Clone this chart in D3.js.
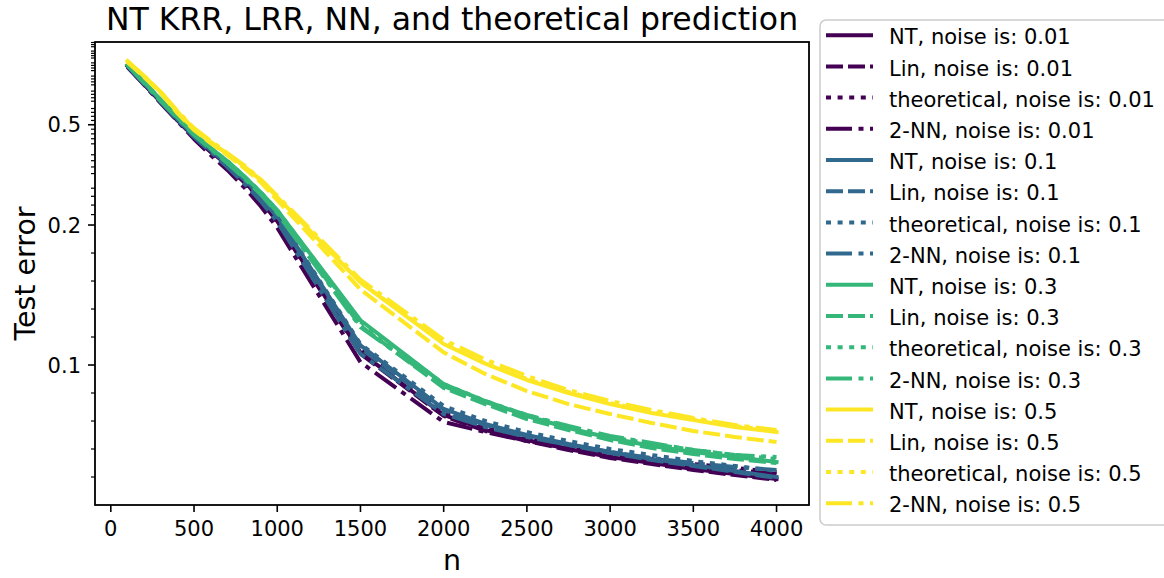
<!DOCTYPE html>
<html><head><meta charset="utf-8">
<script src="https://cdn.jsdelivr.net/npm/d3@7"></script>
<style>
body{margin:0;background:#fff}
text{font-family:"DejaVu Sans",sans-serif;fill:#000}
</style>
</head><body>
<svg id="chart" width="1164" height="578"></svg>
<script>
// ---------------- data ----------------
const nValues = [100,200,300,400,500,600,700,800,900,1000,1500,2000,2250,2500,2750,3000,3250,3500,3750,4000];
const noiseLevels = ["0.01","0.1","0.3","0.5"];
const methods = ["NT","Lin","theoretical","2-NN"];
const noiseColors = ["#440154","#31688e","#35b779","#fde725"];

const ntNoise001   = [0.855,0.725,0.615,0.522,0.447,0.393,0.346,0.299,0.253,0.207,0.109,0.0643,0.0536,0.0464,0.0400,0.0343,0.0300,0.0257,0.0221,0.0186];
const linNoise001  = [0.855,0.725,0.615,0.522,0.447,0.390,0.343,0.296,0.251,0.206,0.108,0.0636,0.0529,0.0457,0.0393,0.0336,0.0293,0.0250,0.0214,0.0179];
const theoNoise001 = [0.855,0.725,0.615,0.522,0.447,0.393,0.346,0.299,0.253,0.209,0.111,0.0657,0.0550,0.0479,0.0421,0.0371,0.0329,0.0293,0.0264,0.0236];
const nnNoise001   = [0.847,0.719,0.609,0.517,0.439,0.379,0.331,0.283,0.238,0.198,0.102,0.0593,0.0521,0.0457,0.0407,0.0357,0.0314,0.0279,0.0250,0.0221];

const ntNoise01    = [0.863,0.732,0.621,0.527,0.451,0.397,0.349,0.304,0.261,0.217,0.114,0.0686,0.0579,0.0500,0.0436,0.0379,0.0329,0.0286,0.0243,0.0200];
const linNoise01   = [0.863,0.732,0.621,0.527,0.451,0.397,0.349,0.302,0.258,0.215,0.112,0.0679,0.0571,0.0493,0.0429,0.0371,0.0321,0.0279,0.0236,0.0193];
const theoNoise01  = [0.863,0.732,0.621,0.527,0.451,0.397,0.349,0.304,0.261,0.219,0.115,0.0707,0.0600,0.0521,0.0457,0.0400,0.0357,0.0314,0.0279,0.0243];
const nnNoise01    = [0.855,0.725,0.615,0.522,0.447,0.390,0.340,0.293,0.249,0.206,0.108,0.0650,0.0557,0.0486,0.0429,0.0379,0.0336,0.0300,0.0271,0.0250];

const ntNoise03    = [0.863,0.739,0.627,0.536,0.459,0.404,0.359,0.313,0.270,0.229,0.132,0.0864,0.0743,0.0636,0.0550,0.0479,0.0421,0.0379,0.0343,0.0307];
const linNoise03   = [0.863,0.739,0.627,0.536,0.459,0.404,0.356,0.310,0.268,0.225,0.128,0.0836,0.0721,0.0614,0.0536,0.0464,0.0407,0.0364,0.0329,0.0300];
const theoNoise03  = [0.863,0.739,0.627,0.536,0.459,0.404,0.359,0.313,0.270,0.229,0.131,0.0864,0.0743,0.0643,0.0557,0.0486,0.0436,0.0393,0.0357,0.0329];
const nnNoise03    = [0.863,0.732,0.621,0.532,0.455,0.400,0.352,0.307,0.265,0.223,0.127,0.0850,0.0736,0.0643,0.0564,0.0493,0.0443,0.0393,0.0357,0.0343];

const ntNoise05    = [0.895,0.780,0.674,0.562,0.480,0.427,0.383,0.343,0.302,0.258,0.159,0.115,0.101,0.0893,0.0800,0.0721,0.0657,0.0607,0.0557,0.0521];
const linNoise05   = [0.887,0.773,0.668,0.556,0.476,0.423,0.379,0.337,0.296,0.251,0.154,0.109,0.0936,0.0814,0.0721,0.0650,0.0586,0.0529,0.0486,0.0450];
const theoNoise05  = [0.895,0.780,0.674,0.562,0.480,0.427,0.383,0.343,0.302,0.258,0.159,0.116,0.101,0.0900,0.0807,0.0729,0.0664,0.0614,0.0564,0.0529];
const nnNoise05    = [0.887,0.780,0.674,0.567,0.485,0.431,0.386,0.346,0.304,0.261,0.161,0.118,0.104,0.0921,0.0821,0.0743,0.0679,0.0621,0.0571,0.0536];

const xTicks = [0,500,1000,1500,2000,2500,3000,3500,4000];
const yTicks = [0.1,0.2,0.5];
const yTickLabels = ["0.1","0.2","0.5"];
const titleText = "NT KRR, LRR, NN, and theoretical prediction";
const xLabel = "n";
const yLabel = "Test error";

// ---------------- build ----------------
const seriesValues = [
  [ntNoise001, linNoise001, theoNoise001, nnNoise001],
  [ntNoise01,  linNoise01,  theoNoise01,  nnNoise01],
  [ntNoise03,  linNoise03,  theoNoise03,  nnNoise03],
  [ntNoise05,  linNoise05,  theoNoise05,  nnNoise05]
];
const dashes = ["none", "17,5", "5,6.6", "26,6.5,5,6.5"];
const caps = ["square", "butt", "butt", "butt"];

const series = [];
noiseLevels.forEach((nl, i) => methods.forEach((m, j) => {
  series.push({label: `${m}, noise is: ${nl}`, color: noiseColors[i], dash: dashes[j], cap: caps[j], values: seriesValues[i][j]});
}));

const svg = d3.select("#chart");
svg.append("rect").attr("width",1164).attr("height",578).attr("fill","#fff");

const L = 95, R = 809, T = 42, B = 505;

// symmetric-log transform (linthresh 0.2, linscale 1, base 10)
const LINTHRESH = 0.2, LINSCALE_ADJ = 1/(1-1/10);
const symlog = v => v <= LINTHRESH ? v*LINSCALE_ADJ : LINTHRESH*(LINSCALE_ADJ + Math.log10(v/LINTHRESH));
const yTop = 1.065;
const yLin = d3.scaleLinear().domain([symlog(0), symlog(yTop)]).range([B, T]);
const y = v => yLin(symlog(v));
const x = d3.scaleLinear().domain([-95, 4195]).range([L, R]);

const clip = svg.append("defs").append("clipPath").attr("id","clip")
  .append("rect").attr("x",L).attr("y",T).attr("width",R-L).attr("height",B-T);

const line = d3.line().x((d)=>x(d[0])).y((d)=>y(d[1]));

const g = svg.append("g").attr("clip-path","url(#clip)");
series.forEach(s => {
  g.append("path")
    .datum(nValues.map((n,k)=>[n, s.values[k]]))
    .attr("d", line)
    .attr("fill","none")
    .attr("stroke", s.color)
    .attr("stroke-width", 4)
    .attr("stroke-dasharray", s.dash)
    .attr("stroke-linecap", s.dash === "none" ? "square" : "butt")
    .attr("stroke-linejoin","round");
});

// minor y ticks: every 0.02 not coinciding with 0.1 multiples
const minorY = d3.range(1, 54).filter(k => k % 5 !== 0).map(k => k*0.02).filter(v => v <= yTop);
const ax = svg.append("g");
minorY.forEach(v => {
  ax.append("line").attr("x1",L-4).attr("x2",L).attr("y1",y(v)).attr("y2",y(v))
    .attr("stroke","#000").attr("stroke-width",1.2);
});
yTicks.forEach((v,i) => {
  ax.append("line").attr("x1",L-7).attr("x2",L).attr("y1",y(v)).attr("y2",y(v))
    .attr("stroke","#000").attr("stroke-width",1.6);
  ax.append("text").attr("x",L-14).attr("y",y(v)+7.6).attr("text-anchor","end")
    .attr("font-size",21).text(yTickLabels[i]);
});
xTicks.forEach(v => {
  ax.append("line").attr("x1",x(v)).attr("x2",x(v)).attr("y1",B).attr("y2",B+7)
    .attr("stroke","#000").attr("stroke-width",1.6);
  ax.append("text").attr("x",x(v)).attr("y",B+30.5).attr("text-anchor","middle")
    .attr("font-size",21).text(v);
});
ax.append("rect").attr("x",L).attr("y",T).attr("width",R-L).attr("height",B-T)
  .attr("fill","none").attr("stroke","#000").attr("stroke-width",1.8);

svg.append("text").attr("x",(L+R)/2).attr("y",30).attr("text-anchor","middle")
  .attr("font-size",31.5).text(titleText);
svg.append("text").attr("x",(L+R)/2).attr("y",570).attr("text-anchor","middle")
  .attr("font-size",28.5).text(xLabel);
svg.append("text").attr("transform",`translate(35,${(T+B)/2}) rotate(-90)`).attr("text-anchor","middle")
  .attr("font-size",28.5).text(yLabel);

// legend
const lg = svg.append("g");
lg.append("rect").attr("x",820).attr("y",20).attr("width",380).attr("height",505).attr("rx",6)
  .attr("fill","#fff").attr("fill-opacity",0.8).attr("stroke","#cccccc").attr("stroke-width",1.5);
series.forEach((s,i) => {
  const yy = 36.7 + i*31.2;
  lg.append("line").attr("x1",826).attr("x2",873).attr("y1",yy-1.5).attr("y2",yy-1.5)
    .attr("stroke",s.color).attr("stroke-width",4).attr("stroke-dasharray",s.dash)
    .attr("stroke-linecap", s.dash === "none" ? "butt" : "butt");
  lg.append("text").attr("x",889).attr("y",yy+7.6).attr("font-size",21).text(s.label);
});
</script>
</body></html>
